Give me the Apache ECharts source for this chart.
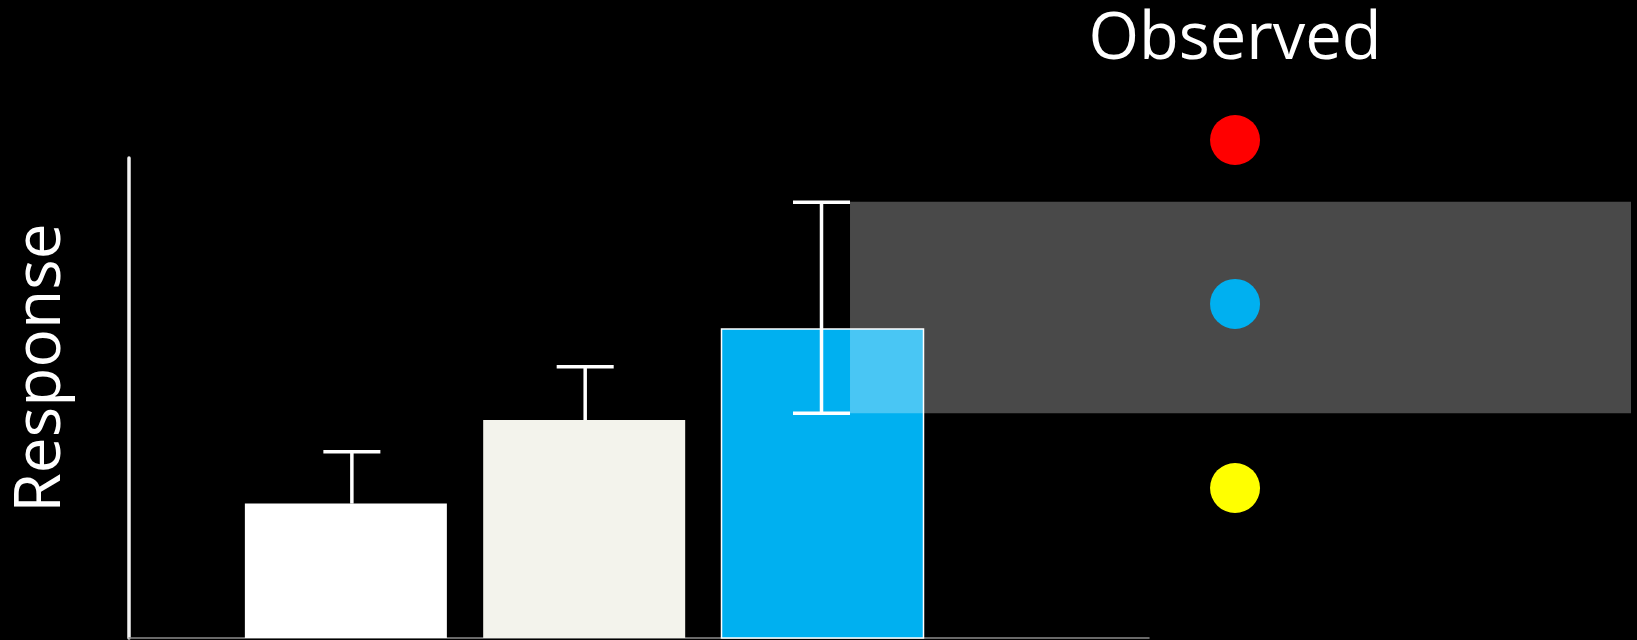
<!DOCTYPE html>
<html>
<head>
<meta charset="utf-8">
<script src="https://cdn.jsdelivr.net/npm/echarts@6/dist/echarts.min.js"></script>
<style>
html,body{margin:0;padding:0;background:#000;}
#chart{width:1637px;height:640px;}
</style>
</head>
<body>
<div id="chart"></div>
<script>
// ---- data ----
var barValues = [28.0, 45.4, 64.4];
var errorHigh = [38.8, 56.5, 90.8];
var errorLow = [null, null, 46.8];
var bandRange = [46.8, 90.9];
var observedValues = [103.75, 69.6, 31.25];
var observedColors = ['#ff0000', '#00b0f0', '#ffff00'];
var barColors = ['#ffffff', '#f3f3ec', '#00b0f0'];
var yAxisName = 'Response';
var observedTitle = 'Observed';

// ---- layout ----
var BAR_W = 202, CAP_W = 57;
var ERR_DX = [6, 1, -1];   // small horizontal nudge of each error bar (px)
var OBS_X = 3.731;         // x position of the observed column
var FONT = '"Open Sans", sans-serif';

var chart = echarts.init(document.getElementById('chart'), null, {renderer: 'canvas'});

var barData = barValues.map(function (v, i) { return [i, v]; });
var errData = barValues.map(function (v, i) {
  return [i, errorLow[i] == null ? v : errorLow[i], errorHigh[i]];
});
var obsData = observedValues.map(function (v, i) {
  return { value: [OBS_X, v], itemStyle: { color: observedColors[i], opacity: 1 } };
});

var option = {
  backgroundColor: '#000000',
  animation: false,
  grid: { left: 129, top: 158, right: 488, bottom: 2, containLabel: false },
  xAxis: {
    type: 'value', min: -0.91, max: 3.37,
    axisLine: { show: true, onZero: false, lineStyle: { color: '#8c8c8c', width: 1.5 } },
    axisTick: { show: false }, axisLabel: { show: false }, splitLine: { show: false }
  },
  yAxis: {
    type: 'value', min: 0, max: 100,
    axisLine: { show: true, onZero: false, lineStyle: { color: '#f2f2f2', width: 3.5 } },
    axisTick: { show: false }, axisLabel: { show: false }, splitLine: { show: false }
  },
  graphic: [{
    type: 'text', x: 1235, y: 40,
    style: { text: observedTitle, fill: '#ffffff', font: '65px ' + FONT, align: 'center', verticalAlign: 'middle' }
  }, {
    type: 'text', x: 42, y: 368, rotation: Math.PI / 2,
    style: { text: yAxisName, fill: '#ffffff', font: '64px ' + FONT, align: 'center', verticalAlign: 'middle' }
  }],
  series: [
    {
      type: 'custom', name: 'bars', z: 1, clip: false,
      data: barData,
      renderItem: function (params, api) {
        var i = api.value(0);
        var top = api.coord([i, api.value(1)]);
        var base = api.coord([i, 0]);
        var isLast = params.dataIndex === 2;
        return {
          type: 'rect',
          shape: { x: top[0] - BAR_W / 2, y: top[1], width: BAR_W, height: base[1] - top[1] },
          style: {
            fill: barColors[params.dataIndex],
            stroke: isLast ? '#ffffff' : null,
            lineWidth: isLast ? 1.5 : 0
          }
        };
      }
    },
    {
      type: 'custom', name: 'band', z: 2, clip: false,
      data: [[2, bandRange[0], bandRange[1]]],
      renderItem: function (params, api) {
        var lo = api.coord([api.value(0), api.value(1)]);
        var hi = api.coord([api.value(0), api.value(2)]);
        var x0 = lo[0] + ERR_DX[2] + CAP_W / 2;
        var x1 = api.getWidth() - 6;
        return {
          type: 'rect',
          shape: { x: x0, y: hi[1], width: x1 - x0, height: lo[1] - hi[1] },
          style: { fill: 'rgba(255,255,255,0.286)' }
        };
      }
    },
    {
      type: 'custom', name: 'errors', z: 3, clip: false,
      data: errData,
      renderItem: function (params, api) {
        var i = api.value(0);
        var lo = api.coord([i, api.value(1)]);
        var hi = api.coord([i, api.value(2)]);
        var cx = hi[0] + ERR_DX[params.dataIndex];
        var style = { stroke: '#ffffff', lineWidth: 3.5 };
        var children = [
          { type: 'line', shape: { x1: cx, y1: hi[1], x2: cx, y2: lo[1] }, style: style },
          { type: 'line', shape: { x1: cx - CAP_W / 2, y1: hi[1], x2: cx + CAP_W / 2, y2: hi[1] }, style: style }
        ];
        if (errorLow[params.dataIndex] != null) {
          children.push({ type: 'line', shape: { x1: cx - CAP_W / 2, y1: lo[1], x2: cx + CAP_W / 2, y2: lo[1] }, style: style });
        }
        return { type: 'group', children: children };
      }
    },
    {
      type: 'scatter', name: 'observed', z: 4, clip: false,
      symbol: 'circle', symbolSize: 50,
      itemStyle: { opacity: 1 },
      data: obsData
    }
  ]
};
chart.setOption(option);
</script>
</body>
</html>
